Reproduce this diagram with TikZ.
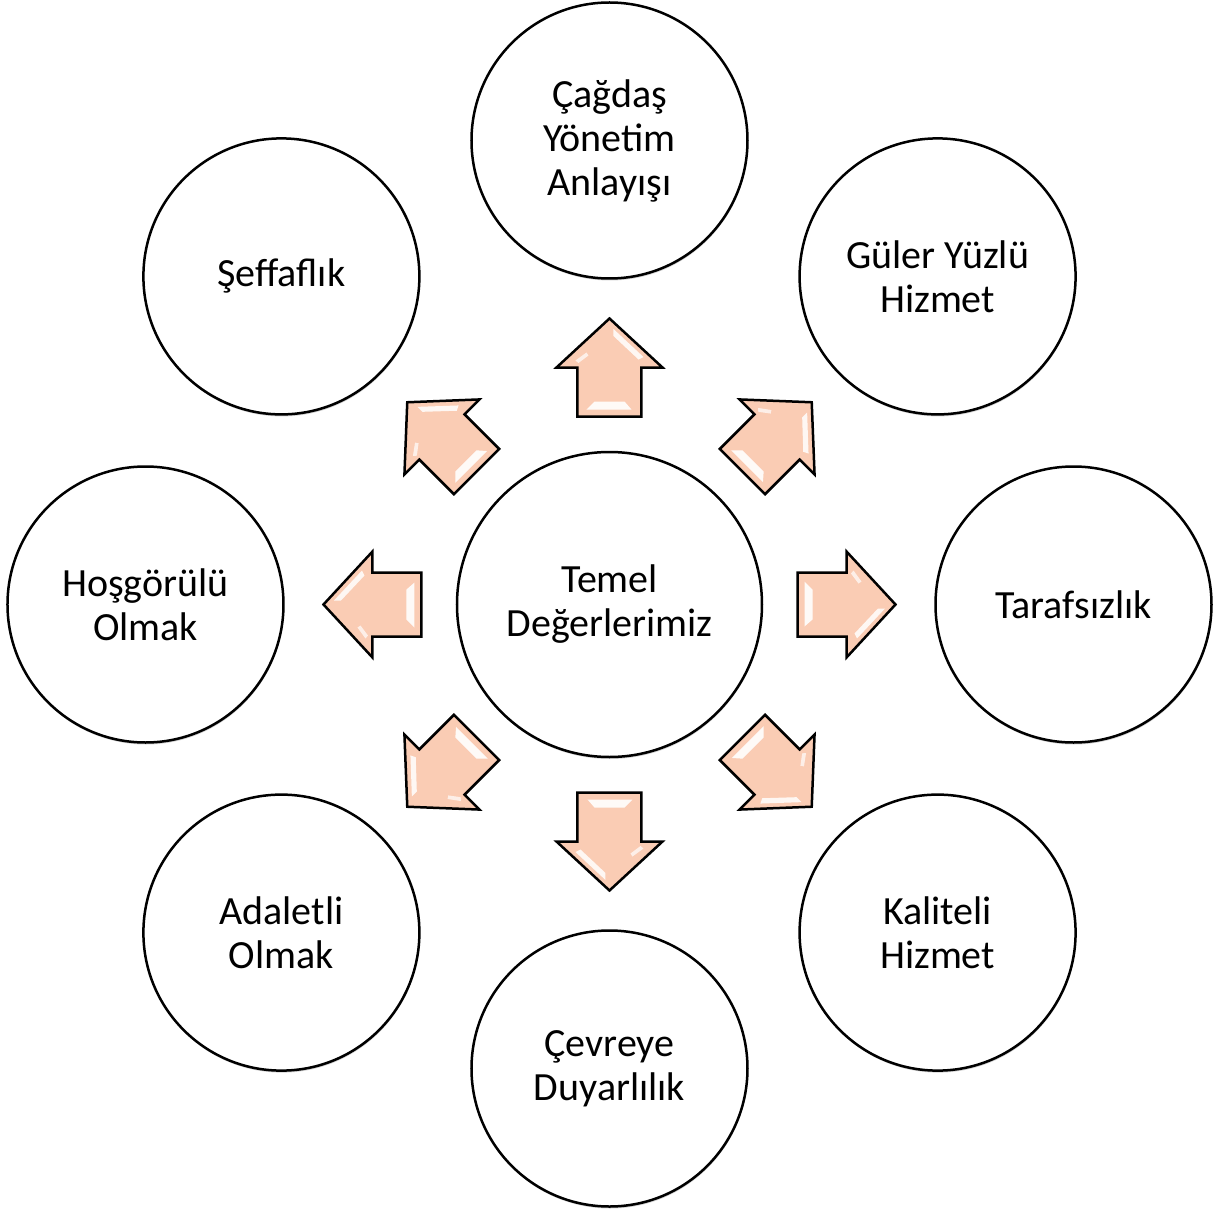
\documentclass[tikz,border=0pt]{standalone}
\usepackage{fontspec}
\setmainfont{Carlito}
\usetikzlibrary{shadows}
\definecolor{peach}{RGB}{250,204,180}
\tikzset{
  valuecircle/.style={circle, draw=black, line width=2.5pt, fill=white,
    minimum size=276pt, inner sep=0pt, align=center,
    font=\fontsize{40}{44}\selectfont,
    drop shadow={shadow xshift=0.5pt, shadow yshift=-2pt, opacity=0.18, fill=black}},
  hubcircle/.style={valuecircle, minimum size=305pt},
  gloss/.style={fill=white, opacity=#1},
  % bevelled block arrow, drawn pointing up, from radius 188 to 286
  pics/bevelarrow/.style={code={
    \fill[peach] (-32,188) -- (32,188) -- (32,237) -- (53,237) -- (0,286)
                 -- (-53,237) -- (-32,237) -- cycle;
    \fill[gloss=0.85] (4,275.5) -- (34,247.5) -- (29,245) -- (4,268.5) -- cycle;
    \fill[gloss=0.7] (-34,244) -- (-23,252) -- (-21,249) -- (-31,241.5) -- cycle;
    \fill[gloss=0.9] (-23,195) -- (22,195) -- (15,203) -- (-15,203) -- cycle;
    \draw[black, line width=2.5pt, line join=miter]
      (-32,188) -- (32,188) -- (32,237) -- (53,237) -- (0,286)
      -- (-53,237) -- (-32,237) -- cycle;
  }}
}
\begin{document}
\begin{tikzpicture}[x=1pt, y=1pt]
  \useasboundingbox (-609.5,-606.5) rectangle (611.5,604.5);

  % arrows radiating from the hub
  \pic (arrN)  [rotate=0]    at (0,0) {bevelarrow};
  \pic (arrNE) [rotate=-45]  at (0,0) {bevelarrow};
  \pic (arrE)  [rotate=-90]  at (0,0) {bevelarrow};
  \pic (arrSE) [rotate=-135] at (0,0) {bevelarrow};
  \pic (arrS)  [rotate=180]  at (0,0) {bevelarrow};
  \pic (arrSW) [rotate=135]  at (0,0) {bevelarrow};
  \pic (arrW)  [rotate=90]   at (0,0) {bevelarrow};
  \pic (arrNW) [rotate=45]   at (0,0) {bevelarrow};

  % hub and surrounding values
  \node[hubcircle] (hub) at (0,0) {Temel\\Değerlerimiz};
  \node[valuecircle] (cagdas)   at (90:464)  {Çağdaş\\Yönetim\\Anlayışı};
  \node[valuecircle] (guler)    at (45:464)  {Güler Yüzlü\\Hizmet};
  \node[valuecircle] (taraf)    at (0:464)   {Tarafsızlık};
  \node[valuecircle] (kalite)   at (-45:464) {Kaliteli\\Hizmet};
  \node[valuecircle] (cevre)    at (-90:464) {Çevreye\\Duyarlılık};
  \node[valuecircle] (adalet)   at (-135:464){Adaletli\\Olmak};
  \node[valuecircle] (hosgoru)  at (180:464) {Hoşgörülü\\Olmak};
  \node[valuecircle] (seffaf)   at (135:464) {Şeffaflık};
\end{tikzpicture}
\end{document}
